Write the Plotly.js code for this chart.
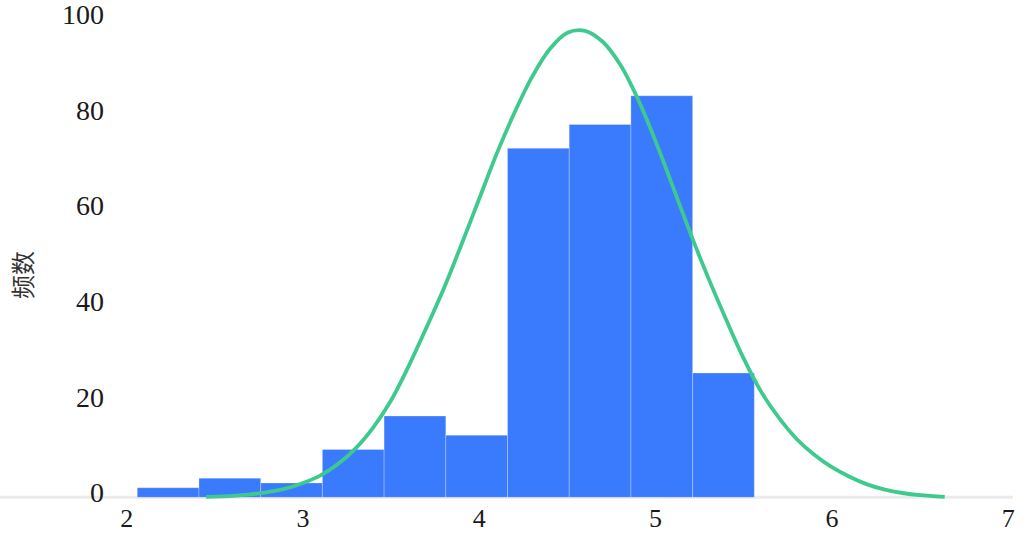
<!DOCTYPE html>
<html>
<head>
<meta charset="utf-8">
<script src="https://cdn.plot.ly/plotly-3.0.1.min.js"></script>
<style>html,body{margin:0;padding:0;background:#fff;}#chart{width:1028px;height:534px;}</style>
</head>
<body>
<div id="chart"></div>
<script>
// Histogram bins (centres) and counts
const binCenters = [2.235, 2.585, 2.935, 3.285, 3.635, 3.985, 4.335, 4.685, 5.035, 5.385];
const binCounts  = [2, 4, 3, 10, 17, 13, 73, 78, 84, 26];
const binWidth = 0.35;

// Fitted normal curve
const curveX = [2.45, 2.6, 2.7, 2.8, 2.9, 3.0, 3.1, 3.2, 3.3, 3.4, 3.5, 3.6, 3.7, 3.8, 3.9, 4.0, 4.1, 4.2, 4.3, 4.4, 4.5, 4.6, 4.7, 4.8, 4.9, 5.0, 5.1, 5.2, 5.3, 5.4, 5.5, 5.6, 5.7, 5.8, 5.9, 6.0, 6.1, 6.2, 6.3, 6.4, 6.5, 6.64];
const curveY = [0.1, 0.3, 0.6, 1.1, 1.8, 3.0, 4.6, 7.0, 10.3, 14.7, 20.3, 27.5, 35.5, 43.8, 53.0, 62.5, 72.0, 80.5, 88.0, 93.8, 97.2, 97.6, 95.3, 90.5, 83.3, 74.5, 64.8, 55.0, 45.8, 37.2, 29.0, 22.0, 16.6, 12.2, 8.9, 6.3, 4.3, 2.7, 1.6, 0.9, 0.45, 0.1];

const xTicks = [2, 3, 4, 5, 6, 7];
const yTicks = [0, 20, 40, 60, 80, 100];
const yTitle = '频数';

const traces = [
  {
    type: 'bar',
    x: binCenters,
    y: binCounts,
    width: Array(binCenters.length).fill(binWidth),
    marker: {color: '#3a7afd', line: {color: 'rgba(255,255,255,0.25)', width: 1}},
    hoverinfo: 'x+y',
    showlegend: false
  },
  {
    type: 'scatter',
    mode: 'lines',
    x: curveX,
    y: curveY,
    line: {color: '#3ec98e', width: 3.8, shape: 'spline', smoothing: 1},
    hoverinfo: 'skip',
    showlegend: false
  }
];

const serif = '"Liberation Serif", "Times New Roman", serif';

const layout = {
  width: 1028,
  height: 534,
  margin: {l: 112, r: 8, t: 0, b: 34},
  paper_bgcolor: '#ffffff',
  plot_bgcolor: '#ffffff',
  bargap: 0,
  showlegend: false,
  xaxis: {
    range: [1.9166, 7.067],
    tickvals: xTicks,
    ticktext: xTicks.map(String),
    showgrid: false,
    zeroline: false,
    showline: false,
    ticks: '',
    tickfont: {family: serif, size: 26, color: '#1a1a1a'},
    ticklabelstandoff: 0
  },
  yaxis: {
    range: [-0.565, 104.04],
    tickvals: yTicks,
    ticktext: yTicks.map(String),
    showgrid: false,
    zeroline: false,
    showline: false,
    ticks: '',
    tickfont: {family: serif, size: 28, color: '#1a1a1a'},
    ticklabelstandoff: 7,
    ticklabelshift: -5,
    ticklabeloverflow: 'allow'
  },
  shapes: [
    {type: 'line', xref: 'paper', yref: 'y', x0: -0.1233, x1: 0.992, y0: 0, y1: 0,
     line: {color: '#ebebeb', width: 3}, layer: 'below'}
  ],
  annotations: [
    {text: yTitle, xref: 'paper', yref: 'paper', x: -0.1002, y: 0.45,
     xanchor: 'center', yanchor: 'middle', textangle: -90, showarrow: false,
     font: {family: '"Noto Sans CJK SC", sans-serif', size: 24, color: '#333'}}
  ]
};

Plotly.newPlot('chart', traces, layout, {displayModeBar: false, staticPlot: true});
</script>
</body>
</html>
